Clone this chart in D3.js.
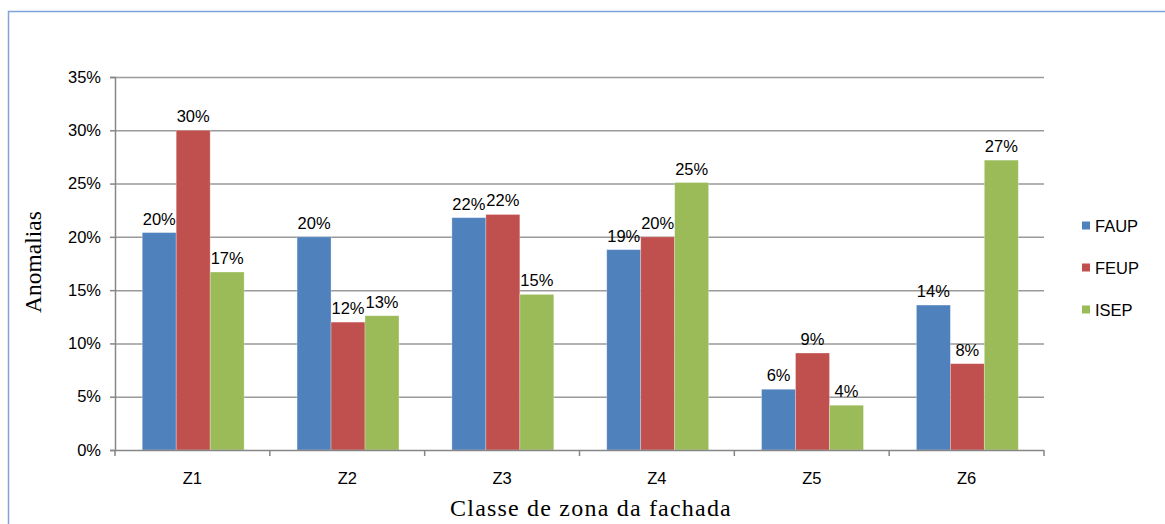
<!DOCTYPE html>
<html>
<head>
<meta charset="utf-8">
<script src="https://cdn.jsdelivr.net/npm/d3@7"></script>
<style>
  html, body { margin: 0; padding: 0; background: #fff; }
  svg { display: block; }
</style>
</head>
<body>
<svg id="chart" width="1165" height="524"></svg>
<script>
// Zone classes along the façade
const categories = ["Z1", "Z2", "Z3", "Z4", "Z5", "Z6"];
// Share of anomalies per zone, in percent
const seriesNames = ["FAUP", "FEUP", "ISEP"];
const faup = [20.4, 20.0, 21.8, 18.8, 5.7, 13.6];
const feup = [30.0, 12.0, 22.1, 20.0, 9.1, 8.1];
const isep = [16.7, 12.6, 14.6, 25.1, 4.2, 27.2];
const yTicks = [0, 5, 10, 15, 20, 25, 30, 35];
const colors = ["#4f81bd", "#c0504d", "#9bbb59"];

const series = [faup, feup, isep];
const sans = "Liberation Sans, Arial, sans-serif";
const fs = 16.5;

const svg = d3.select("#chart");
const W = 1165, H = 524;
const plot = { left: 115, right: 1044, top: 77, bottom: 450 };

// outer frame (top and left edges visible)
svg.append("path")
  .attr("d", `M8.5,${H} L8.5,11.5 L${W},11.5`)
  .attr("fill", "none")
  .attr("stroke", "#7fa3d6")
  .attr("stroke-width", 1.5);

const x0 = d3.scaleBand()
  .domain(categories)
  .range([plot.left, plot.right])
  .paddingInner(0).paddingOuter(0);

const bw = x0.bandwidth();
const x1 = d3.scaleBand()
  .domain(seriesNames)
  .range([bw * 0.176, bw * 0.834])
  .padding(0);

const y = d3.scaleLinear().domain([0, 35]).range([plot.bottom, plot.top]);

// gridlines
svg.append("g")
  .selectAll("line")
  .data(yTicks.filter(d => d > 0))
  .join("line")
  .attr("x1", plot.left).attr("x2", plot.right)
  .attr("y1", d => y(d) + 0.5).attr("y2", d => y(d) + 0.5)
  .attr("stroke", "#9a9a9a")
  .attr("stroke-width", 1.5);

// y axis
const yAxis = d3.axisLeft(y)
  .tickValues(yTicks)
  .tickSize(5)
  .tickPadding(9)
  .tickFormat(d => d + "%");
const gy = svg.append("g")
  .attr("transform", `translate(${plot.left},0)`)
  .call(yAxis);
gy.select(".domain").attr("stroke", "#868686").attr("stroke-width", 1.5);
gy.selectAll(".tick line").attr("stroke", "#868686").attr("stroke-width", 1.5);
gy.selectAll(".tick text")
  .attr("font-family", sans)
  .attr("font-size", fs)
  .attr("fill", "#000");

// bars
const groups = svg.append("g")
  .selectAll("g")
  .data(categories)
  .join("g")
  .attr("transform", d => `translate(${x0(d)},0)`);

groups.selectAll("rect")
  .data((c, i) => series.map((s, k) => ({ name: seriesNames[k], v: s[i], k })))
  .join("rect")
  .attr("x", d => x1(d.name))
  .attr("width", x1.bandwidth())
  .attr("y", d => y(d.v))
  .attr("height", d => y(0) - y(d.v))
  .attr("fill", d => colors[d.k])
  .attr("stroke", "#ffffff")
  .attr("stroke-opacity", 0.35)
  .attr("stroke-width", 0.8);

// value labels
groups.selectAll("text")
  .data((c, i) => series.map((s, k) => ({ name: seriesNames[k], v: s[i], k })))
  .join("text")
  .attr("x", d => x1(d.name) + x1.bandwidth() / 2)
  .attr("y", d => y(d.v) - 8)
  .attr("text-anchor", "middle")
  .attr("font-family", sans)
  .attr("font-size", fs)
  .attr("fill", "#000")
  .text(d => Math.round(d.v) + "%");

// x axis
const xAxis = d3.axisBottom(x0).tickSize(0).tickPadding(22);
const gx = svg.append("g")
  .attr("transform", `translate(0,${plot.bottom})`)
  .call(xAxis);
gx.select(".domain").remove();
gx.selectAll(".tick text")
  .attr("font-family", sans)
  .attr("font-size", fs)
  .attr("fill", "#000");
gx.append("line")
  .attr("x1", plot.left).attr("x2", plot.right)
  .attr("y1", 0.5).attr("y2", 0.5)
  .attr("stroke", "#868686").attr("stroke-width", 1.5);
// category boundary ticks
gx.selectAll(".bound")
  .data(categories.concat(["end"]))
  .join("line")
  .attr("class", "bound")
  .attr("x1", (d, i) => i < categories.length ? x0(d) : plot.right)
  .attr("x2", (d, i) => i < categories.length ? x0(d) : plot.right)
  .attr("y1", 0).attr("y2", 6)
  .attr("stroke", "#868686").attr("stroke-width", 1.5);

// axis titles
const serif = "Liberation Serif, Times New Roman, serif";
svg.append("text")
  .attr("x", 591).attr("y", 516)
  .attr("text-anchor", "middle")
  .attr("font-family", serif)
  .attr("font-size", 24)
  .attr("letter-spacing", 1.2)
  .attr("fill", "#000")
  .text("Classe de zona da fachada");

svg.append("text")
  .attr("transform", "translate(41,262) rotate(-90)")
  .attr("text-anchor", "middle")
  .attr("font-family", serif)
  .attr("font-size", 23.5)
  .attr("fill", "#000")
  .text("Anomalias");

// legend
const legend = svg.append("g")
  .selectAll("g")
  .data(seriesNames)
  .join("g")
  .attr("transform", (d, i) => `translate(1082,${226 + i * 42})`);
legend.append("rect")
  .attr("x", 0).attr("y", -4.5)
  .attr("width", 8).attr("height", 8)
  .attr("fill", (d, i) => colors[i]);
legend.append("text")
  .attr("x", 13).attr("y", 0)
  .attr("dy", "0.36em")
  .attr("font-family", sans)
  .attr("font-size", fs)
  .attr("fill", "#000")
  .text(d => d);
</script>
</body>
</html>
